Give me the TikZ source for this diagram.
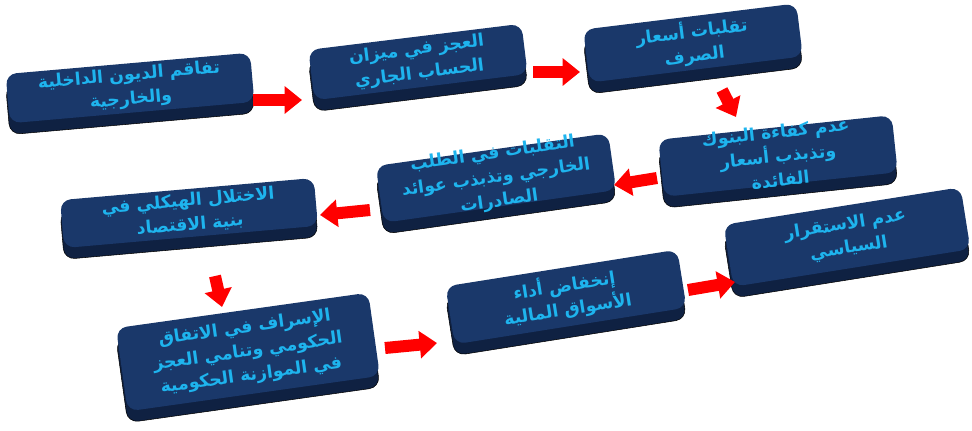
\documentclass[tikz,border=0pt]{standalone}
\usepackage{fontspec}
\usepackage{xcolor}
\usepackage{tikz}
\usetikzlibrary{arrows.meta, shadows}
\TeXXeTstate=1
\newfontfamily\arabicfont[Script=Arabic]{DejaVu Sans}
\newcommand{\rl}[1]{\beginR #1\endR}
\definecolor{boxtop}{RGB}{26,56,106}
\definecolor{boxside}{RGB}{15,33,66}
\definecolor{textcyan}{RGB}{30,180,238}

\begin{document}
\begin{tikzpicture}[x=0.75pt, y=-0.75pt,
    box/.style={fill=boxtop, rounded corners=8pt, inner sep=0pt, align=center,
        text=textcyan, font=\arabicfont\bfseries\fontsize{13}{18}\selectfont,
        copy shadow={shadow xshift=0pt, shadow yshift=-8.5pt, fill=boxside}},
    flow/.style={draw=red, line width=9pt, -{Triangle[length=13pt, width=20pt]}}]
    \useasboundingbox (0,0) rectangle (972,430);

    % first row
    \node[box, minimum width=184pt, minimum height=37pt, rotate=5] (debt) at (130,88)
        {\rl{تفاقم الديون الداخلية}\\\rl{والخارجية}};
    \node[box, minimum width=161pt, minimum height=38pt, rotate=7] (deficit) at (418,62)
        {\rl{العجز في ميزان}\\\rl{الحساب الجاري}};
    \node[box, minimum width=161pt, minimum height=40pt, rotate=7] (exchange) at (693,43)
        {\rl{تقلبات أسعار}\\\rl{الصرف}};

    % second row
    \node[box, minimum width=176pt, minimum height=43pt, inner ysep=-7pt, rotate=6] (banks) at (778,156)
        {\rl{عدم كفاءة البنوك}\\\rl{وتذبذب أسعار}\\\rl{الفائدة}};
    \node[box, minimum width=176pt, minimum height=43pt, inner ysep=-7pt, rotate=8] (exports) at (496,178)
        {\rl{التقلبات في الطلب}\\\rl{الخارجي وتذبذب عوائد}\\\rl{الصادرات}};
    \node[box, minimum width=191pt, minimum height=36pt, inner ysep=-2pt, rotate=5] (imbalance) at (189,213)
        {\rl{الاختلال الهيكلي في}\\\rl{بنية الاقتصاد}};

    % third row
    \node[box, minimum width=191pt, minimum height=63pt, rotate=8] (spending) at (248,352)
        {\rl{الإسراف في الاتفاق}\\\rl{الحكومي وتنامي العجز}\\\rl{في الموازنة الحكومية}};
    \node[box, minimum width=176pt, minimum height=44pt, rotate=9] (markets) at (566,297)
        {\rl{إنخفاض أداء}\\\rl{الأسواق المالية}};
    \node[box, minimum width=180pt, minimum height=47pt, rotate=9] (politics) at (847,237)
        {\rl{عدم الاستقرار}\\\rl{السياسي}};

    % arrows
    \draw[flow] ([shift={(123,12)}]debt.center) -- ([shift={(-116,38)}]deficit.center);
    \draw[flow] ([shift={(115,10)}]deficit.center) -- ([shift={(-113,29)}]exchange.center);
    \draw[flow] ([shift={(29,47)}]exchange.center) -- ([shift={(-42,-39)}]banks.center);
    \draw[flow] ([shift={(-121,22)}]banks.center) -- ([shift={(118,7)}]exports.center);
    \draw[flow] ([shift={(-126,32)}]exports.center) -- ([shift={(131,2)}]imbalance.center);
    \draw[flow] ([shift={(26,63)}]imbalance.center) -- ([shift={(-26,-45)}]spending.center);
    \draw[flow] ([shift={(137,-4)}]spending.center) -- ([shift={(-129,46)}]markets.center);
    \draw[flow] ([shift={(122,-7)}]markets.center) -- ([shift={(-112,45)}]politics.center);
\end{tikzpicture}
\end{document}
